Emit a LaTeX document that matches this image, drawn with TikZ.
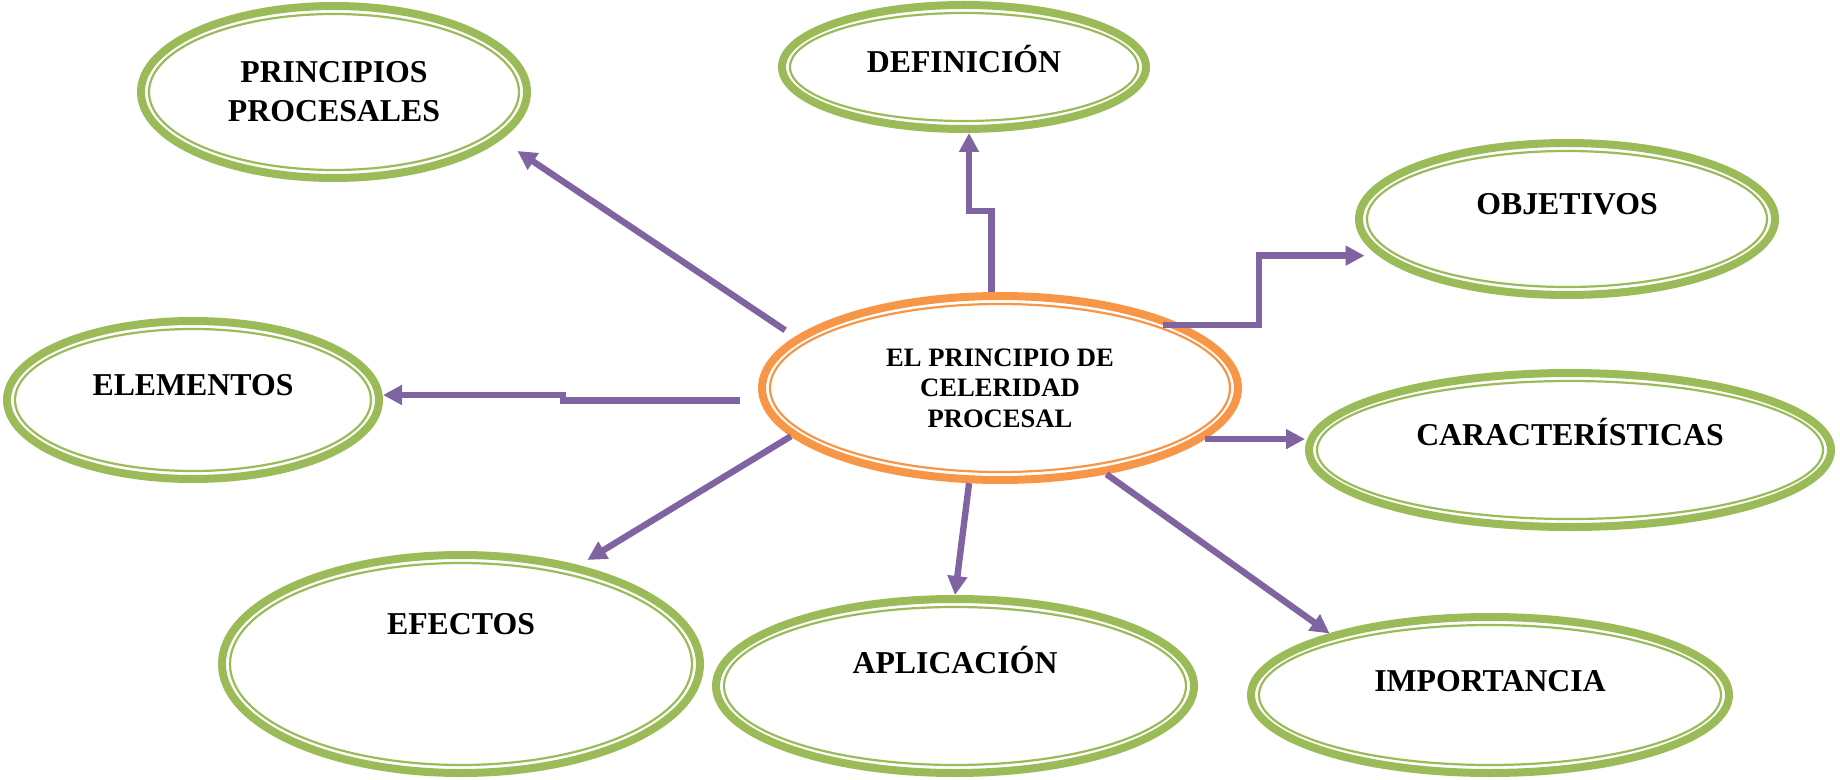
\documentclass[tikz,border=0pt]{standalone}
\usepackage{fontspec}
\setmainfont{Liberation Serif}
\usetikzlibrary{shapes.geometric, arrows.meta, calc}
\definecolor{bgreen}{HTML}{9BBB59}
\definecolor{borange}{HTML}{F79646}
\definecolor{bpurple}{HTML}{8064A2}
\tikzset{
  bubble/.style={ellipse, draw=bgreen, line width=4pt, fill=white, inner sep=0pt, align=center,
    font=\fontsize{15.9}{19.5}\selectfont\bfseries},
  lift/.style={text height=11pt, text depth=#1},
  ring/.style={line width=1.1pt},
  arr/.style={draw=bpurple, line width=3.2pt, -{Triangle[length=9.5pt,width=9.5pt]}}
}
\begin{document}
\begin{tikzpicture}[x=0.5pt, y=-0.5pt]
\useasboundingbox (0,0) rectangle (1840,780);

% Centre
\node[bubble, draw=borange, minimum width=238pt, minimum height=92pt,
  font=\fontsize{13.3}{15.3}\selectfont\bfseries] (cel) at (1000,388)
  {EL PRINCIPIO DE\\CELERIDAD\\PROCESAL};

% Topics
\node[bubble, minimum width=193pt, minimum height=86pt] (prin) at (334,92) {PRINCIPIOS\\PROCESALES};
\node[bubble, lift=5pt, minimum width=182pt, minimum height=62pt] (def) at (964,67) {DEFINICIÓN};
\node[bubble, lift=15pt, minimum width=208pt, minimum height=76pt] (obj) at (1567,219) {OBJETIVOS};
\node[bubble, lift=16pt, minimum width=261pt, minimum height=77pt] (car) at (1570,450) {CARACTERÍSTICAS};
\node[bubble, lift=16pt, minimum width=186pt, minimum height=79pt] (elem) at (193,400) {ELEMENTOS};
\node[bubble, lift=41pt, minimum width=239pt, minimum height=109pt] (efe) at (461,664) {EFECTOS};
\node[bubble, lift=24pt, minimum width=239pt, minimum height=87pt] (apl) at (955,686) {APLICACIÓN};
\node[bubble, lift=15pt, minimum width=239pt, minimum height=78pt] (imp) at (1490,695) {IMPORTANCIA};

% Inner rings
\foreach \nd/\c in {cel/borange, prin/bgreen, def/bgreen, obj/bgreen, car/bgreen,
                    elem/bgreen, efe/bgreen, apl/bgreen, imp/bgreen}
  \draw[ring, draw=\c] let \p1=($(\nd.east)-(\nd.center)$), \p2=($(\nd.north)-(\nd.center)$) in
    (\nd.center) ellipse [x radius=\x1-6pt, y radius=\y2-6pt];

% Connections
\draw[arr, shorten <=6pt, shorten >=10pt] (cel.166) -- (prin.-16);
\draw[arr] (cel.95) -- ++(0,-81) -| ([xshift=2.5pt]def.south);
\draw[arr, shorten <=-10pt] (cel.19) -- ++(76,0) |- ([xshift=-7pt]obj.191);
\draw[arr, shorten <=10pt] (cel.183) -- ++(-197,0) |- ([yshift=2.5pt]elem.east);
\draw[arr] (cel.-14) -- (cel.-14 -| car.west);
\draw[arr, shorten >=5pt] (cel.193) -- (efe.40);
\draw[arr] (cel.252) -- (apl.north);
\draw[arr] (cel.-39) -- (imp.159);

\end{tikzpicture}
\end{document}
